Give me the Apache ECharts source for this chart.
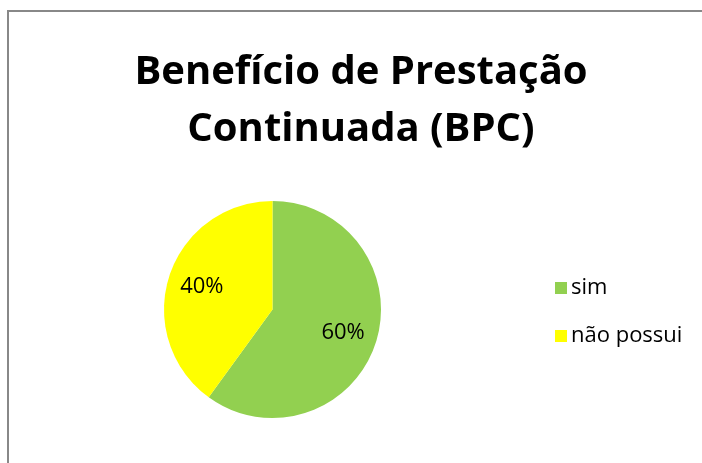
<!DOCTYPE html>
<html>
<head>
<meta charset="utf-8">
<script src="https://cdn.jsdelivr.net/npm/echarts@6/dist/echarts.min.js"></script>
<style>
html,body{margin:0;padding:0;background:#fff;}
#c{width:702px;height:463px;}
</style>
</head>
<body>
<div id="c"></div>
<script>
const titleText = 'Benefício de Prestação\nContinuada (BPC)';
const categories = ['sim', 'não possui'];
const values = [60, 40];
const colors = ['#92D050', '#FFFF00'];

const data = categories.map((c, i) => ({ name: c, value: values[i], itemStyle: { color: colors[i] } }));
const labelData = categories.map((c, i) => ({ name: c, value: values[i] }));

const chart = echarts.init(document.getElementById('c'), null, { renderer: 'canvas' });
chart.setOption({
  animation: false,
  backgroundColor: '#fff',
  graphic: [{
    type: 'rect',
    shape: { x: 8, y: 11, width: 720, height: 480 },
    style: { fill: 'none', stroke: '#888', lineWidth: 2 },
    silent: true
  }],
  title: {
    text: titleText,
    left: 356,
    textAlign: 'center',
    top: 39,
    textStyle: { fontFamily: 'Open Sans', fontWeight: 'bold', fontSize: 40, lineHeight: 57, color: '#000' }
  },
  legend: {
    orient: 'vertical',
    left: 550,
    top: 271,
    icon: 'rect',
    itemWidth: 12,
    itemHeight: 12,
    itemGap: 24,
    data: categories,
    textStyle: { fontFamily: 'Open Sans', fontSize: 22, lineHeight: 24, color: '#000', padding: [0, 0, 0, -1] },
    selectedMode: false
  },
  series: [{
    type: 'pie',
    center: [272.5, 309.5],
    radius: [0, 108.5],
    startAngle: 90,
    clockwise: true,
    data: data,
    label: { show: false },
    labelLine: { show: false },
    silent: true
  }, {
    type: 'pie',
    center: [272.5, 309.5],
    radius: [34, 108.5],
    startAngle: 90,
    clockwise: true,
    data: labelData,
    itemStyle: { color: 'rgba(0,0,0,0)' },
    label: {
      show: true,
      position: 'inside',
      formatter: '{d}%',
      fontFamily: 'Open Sans',
      fontSize: 22,
      color: '#000'
    },
    labelLine: { show: false },
    silent: true
  }]
});
</script>
</body>
</html>
